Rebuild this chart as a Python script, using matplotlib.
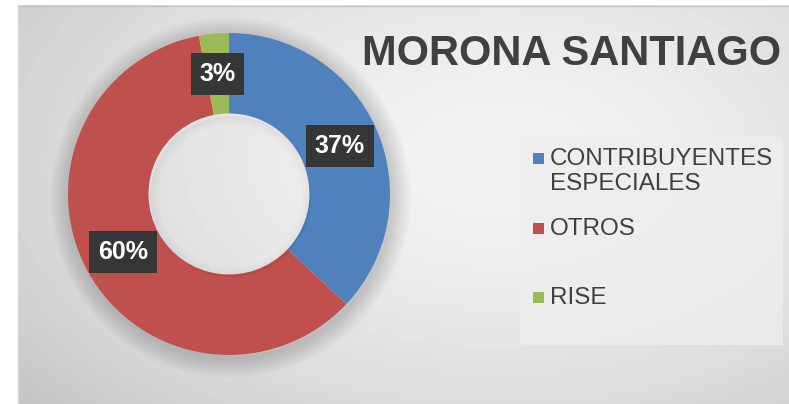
import numpy as np
import matplotlib.pyplot as plt
from matplotlib.patches import Rectangle, Wedge

# datos
categorias = ["CONTRIBUYENTES\nESPECIALES", "OTROS", "RISE"]
valores = [37, 60, 3]
colores = ["#4F81BD", "#C0504D", "#9BBB59"]
titulo = "MORONA SANTIAGO"

plt.rcParams['font.family'] = ['Liberation Sans', 'DejaVu Sans']

W, H = 789, 404
fig = plt.figure(figsize=(W / 100, H / 100), dpi=100)
fig.patch.set_facecolor('white')

# capa de fondo en coordenadas de pixel
bg = fig.add_axes([0, 0, 1, 1])
bg.set_xlim(0, W)
bg.set_ylim(H, 0)
bg.axis('off')

# degradado radial gris
yy, xx = np.mgrid[0:H - 5, 0:W - 18]
xx = xx + 18
yy = yy + 5
d = np.sqrt(((xx - 500) / 560.0) ** 2 + ((yy - 160) / 330.0) ** 2)
grad = 0.955 - 0.15 * np.clip(d, 0, 1.2) ** 1.6
bg.imshow(grad, cmap='gray', vmin=0, vmax=1, extent=(18, W, H, 5),
          aspect='auto', interpolation='bilinear')
bg.plot([18, W], [5.5, 5.5], color='#c4c4c4', lw=1)
bg.plot([18.5, 18.5], [5, H], color='#d8d8d8', lw=1)

# titulo
bg.text(572, 54, titulo, ha='center', va='center', fontsize=30,
        fontweight='bold', color='#404040')

# leyenda (dibujada a mano)
bg.add_patch(Rectangle((520, 137), 263, 208, facecolor='#eeeeee',
                       edgecolor='none', alpha=0.8))
ys = [158, 228, 297]
for cat, col, y in zip(categorias, colores, ys):
    bg.add_patch(Rectangle((533, y - 5.5), 11, 11, facecolor=col, edgecolor='none'))
    bg.text(550, y - 10, cat, ha='left', va='top', fontsize=17.5,
            color='#404040', linespacing=1.2)

# dona
cx, cy, r = 229, 194, 161
ax = fig.add_axes([(cx - r) / W, (H - cy - r) / H, 2 * r / W, 2 * r / H])
ax.set_xlim(-1, 1)
ax.set_ylim(-1, 1)
ax.axis('off')

# sombra suave por fuera y dentro del hueco
for i in range(1, 11):
    ax.add_patch(Wedge((0.01, -0.02), 1 + 0.012 * i, 0, 360, width=0.012 * i + 0.02,
                       facecolor='black', edgecolor='none', alpha=0.014,
                       zorder=0, clip_on=False))
for i in range(1, 7):
    ax.add_patch(Wedge((0.01, -0.015), 0.5, 0, 360, width=0.01 * i,
                       facecolor='black', edgecolor='none', alpha=0.006, zorder=3))

wedges, textos, autotextos = ax.pie(
    valores, colors=colores, startangle=90, counterclock=False, radius=1,
    wedgeprops=dict(width=0.5, edgecolor='none'),
    autopct=lambda p: f'{p:.0f}%', pctdistance=0.75,
    textprops=dict(color='white', fontsize=18, fontweight='bold'))
for t in autotextos:
    t.set_bbox(dict(boxstyle='square,pad=0.35', facecolor='#363636',
                    edgecolor='none'))
    t.set_zorder(5)
ax.set_xlim(-1, 1)
ax.set_ylim(-1, 1)

fig.savefig('out.png', dpi=100)
